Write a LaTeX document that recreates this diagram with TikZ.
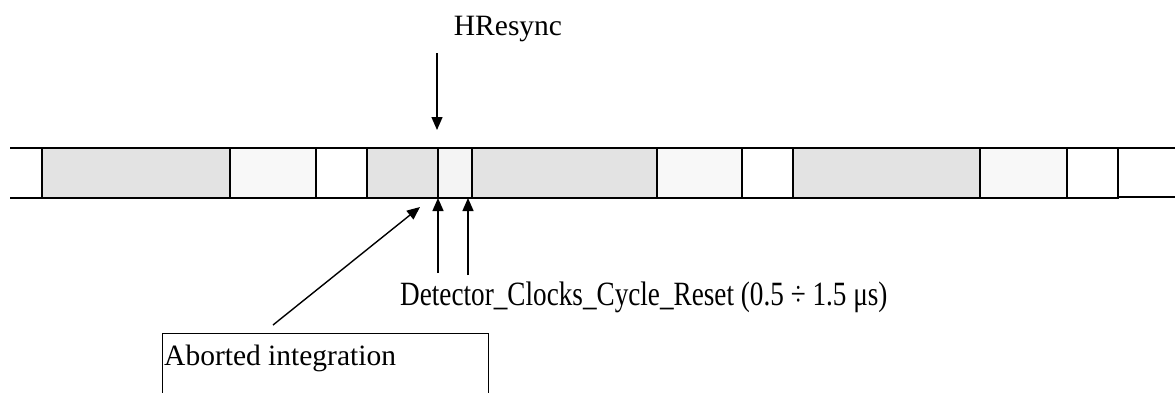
\documentclass[tikz,border=0pt]{standalone}
\usepackage{fontspec}
\setmainfont{Liberation Serif}
\usetikzlibrary{arrows.meta}
\definecolor{segdark}{HTML}{E3E3E3}
\definecolor{seglight}{HTML}{F8F8F8}
\definecolor{segmid}{HTML}{F4F4F4}
\begin{document}
\begin{tikzpicture}[x=1pt,y=-1pt,
  seg/.style={draw=black,line width=1.5pt},
  rail/.style={draw=black,line width=1.5pt},
  arr/.style={line width=1.4pt,-{Triangle[length=13pt,width=11pt]}},
  lbl/.style={inner sep=0pt,font=\fontsize{29.5}{34}\selectfont}]
\useasboundingbox (0,0) rectangle (1175,392);
% rails
\draw[rail] (10,148) -- (42,148);
\draw[rail] (10,198) -- (42,198);
\draw[rail] (1118,148) -- (1175,148);
\draw[rail] (1118,197) -- (1175,197);
% segments
\draw[seg,fill=segdark]  (42,148) rectangle (230,198);
\draw[seg,fill=seglight] (230,148) rectangle (316,198);
\draw[seg,fill=white]    (316,148) rectangle (367,198);
\draw[seg,fill=segdark]  (367,148) rectangle (438,198);
\draw[seg,fill=segmid]   (438,148) rectangle (472,198);
\draw[seg,fill=segdark]  (472,148) rectangle (657,198);
\draw[seg,fill=seglight] (657,148) rectangle (742,198);
\draw[seg,fill=white]    (742,148) rectangle (793,198);
\draw[seg,fill=segdark]  (793,148) rectangle (980,198);
\draw[seg,fill=seglight] (980,148) rectangle (1067,198);
\draw[seg,fill=white]    (1067,148) rectangle (1118,198);
% labels
\node[lbl,anchor=base] (hres) at (508,35) {HResync};
\coordinate (hresA) at (437,53);
\coordinate (hresB) at (437,130);
\draw[arr] (hresA) -- (hresB);
\coordinate (r1a) at (438,273);
\coordinate (r1b) at (438,198);
\coordinate (r2a) at (468,275);
\coordinate (r2b) at (468,198);
\draw[arr] (r1a) -- (r1b);
\draw[arr] (r2a) -- (r2b);
\node[inner sep=0pt,anchor=base west,font=\fontsize{34}{40}\selectfont] (det) at (400,305)
  {\scalebox{0.80}[1]{Detector\_Clocks\_Cycle\_Reset (0.5 ÷ 1.5 μs)}};
\node[draw,line width=1.3pt,anchor=north west,minimum width=326pt,minimum height=90pt,inner sep=0pt] (box) at (162,333) {};
\node[lbl,anchor=base west] (abt) at (164,365) {Aborted integration};
\coordinate (aS) at (273,325);
\coordinate (aE) at (420,207);
\draw[arr] (aS) -- (aE);
\end{tikzpicture}
\end{document}
